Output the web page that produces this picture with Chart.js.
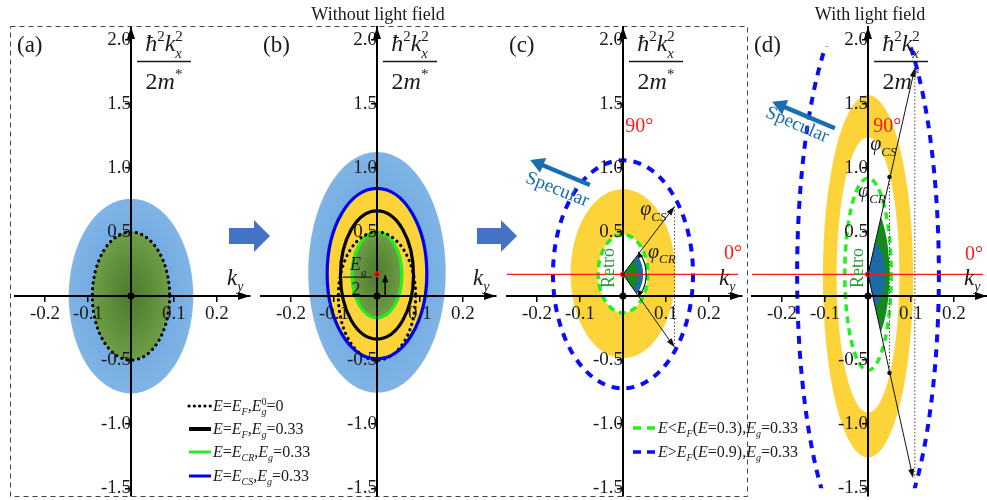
<!DOCTYPE html>
<html>
<head>
<meta charset="utf-8">
<script src="https://cdn.jsdelivr.net/npm/chart.js@4.4.1/dist/chart.umd.min.js"></script>
<style>
html, body { margin: 0; padding: 0; background: #fff; overflow: hidden; width: 987px; height: 500px; }
canvas { position: absolute; left: 0; top: 0; }
</style>
</head>
<body>
<canvas id="pa" width="987" height="530"></canvas>
<canvas id="pb" width="987" height="530"></canvas>
<canvas id="pc" width="987" height="530"></canvas>
<canvas id="pd" width="987" height="530"></canvas>
<script>
// axes
const kRange = [-0.27, 0.277];
const eRange = [-1.56, 2.1];
const xTickValues = [-0.2, -0.1, 0.1, 0.2];
const yTickValues = [-1.5, -1.0, -0.5, 0.5, 1.0, 1.5, 2.0];
const panelNames = ['(a)', '(b)', '(c)', '(d)'];
const yTitleTop = 'ħ^{2}k_{x}^{2}';
const yTitleBottom = '2m^{*}';
const xTitle = 'k_{y}';
const gapShift = 0.17; // Eg/2

// ellipses: [k centre, E centre, half width, half height]
const cloudA = [0, 0, 0.145, 0.76];
const fermiA = [0, 0, 0.09, 0.5];
const cloudB = [0, 0.185, 0.16, 0.94];
const csLineB = [0, 0.175, 0.116, 0.665];
const fermiGapB = [0, 0.165, 0.085, 0.5];
const crLineB = [0, 0.165, 0.058, 0.335];
const ringOuterC = [0, 0.175, 0.122, 0.66];
const ringInnerC = [0, 0.175, 0.058, 0.305];
const highDashC = [0, 0.17, 0.163, 0.89];
const ringOuterD = [0, 0.155, 0.105, 1.415];
const ringInnerD = [0, 0.165, 0.073, 1.075];
const lowDashD = [0, 0.17, 0.054, 0.75];
const highDashD = [0, 0.17, 0.165, 2.22];
const highDashCut = [-1.5, 1.95];

// reflection angles
const phiEndsC = [[0.12, 0.70], [0.12, -0.40]];
const wedgeOuterC = [0, 0.17, 0.047, 0.21];
const wedgeInnerC = [0, 0.17, 0.035, 0.16];
const phiEndsD = [[0.109, 1.78], [0.105, -1.42]];
const wedgeOuterD = [0, 0.17, 0.05, 0.56];
const wedgeInnerD = [0, 0.17, 0.04, 0.28];
const crPointsD = [[0.05, 0.93], [0.05, -0.60]];

const legendB = ['E=E_{F},E_{g}^{0}=0', 'E=E_{F},E_{g}=0.33', 'E=E_{CR},E_{g}=0.33', 'E=E_{CS},E_{g}=0.33'];
const legendC = ['E<E_{F}(E=0.3),E_{g}=0.33', 'E>E_{F}(E=0.9),E_{g}=0.33'];

const axisPos = [131, 377, 623, 868];
const SERIF = '"Liberation Serif", "Times New Roman", serif';
const YELLOW = '#fcd43a';
const LIME = '#22ee22';
const BLUE_LINE = '#0a0aff';

function font(size, italic) { return (italic ? 'italic ' : '') + size + 'px ' + SERIF; }
const P = (ch, x, y) => [ch.scales.x.getPixelForValue(x), ch.scales.y.getPixelForValue(y)];

function ellPx(ch, e) {
  const [x0, y0] = P(ch, e[0], e[1]);
  return [x0, y0, ch.scales.x.getPixelForValue(e[0] + e[2]) - x0, y0 - ch.scales.y.getPixelForValue(e[1] + e[3])];
}
function ellPath(ctx, ch, e) {
  const [x0, y0, rx, ry] = ellPx(ch, e);
  ctx.moveTo(x0 + rx, y0);
  ctx.ellipse(x0, y0, rx, ry, 0, 0, 2 * Math.PI);
}
function fillEll(ctx, ch, e, color) {
  ctx.beginPath(); ellPath(ctx, ch, e); ctx.fillStyle = color; ctx.fill();
}
function cloud(ctx, ch, e, inner, outer) {
  const [x0, y0, rx, ry] = ellPx(ch, e);
  ctx.save();
  ctx.translate(x0, y0); ctx.scale(1, ry / rx);
  const g = ctx.createRadialGradient(0, 0, 0, 0, 0, rx);
  g.addColorStop(0, inner); g.addColorStop(1, outer);
  ctx.fillStyle = g;
  ctx.beginPath(); ctx.arc(0, 0, rx, 0, 2 * Math.PI); ctx.fill();
  ctx.restore();
}
function ring(ctx, ch, outer, inner, color) {
  ctx.beginPath(); ellPath(ctx, ch, outer); ellPath(ctx, ch, inner);
  ctx.fillStyle = color; ctx.fill('evenodd');
}
function strokeEll(ctx, ch, e, color, w, dash, cap) {
  ctx.save();
  ctx.beginPath(); ellPath(ctx, ch, e);
  ctx.strokeStyle = color; ctx.lineWidth = w; ctx.setLineDash(dash || []); ctx.lineCap = cap || 'butt';
  ctx.stroke();
  ctx.restore();
}
function sector(ctx, ch, ends, big, small, bigColor, smallColor) {
  ctx.save();
  const c = P(ch, 0, gapShift);
  ctx.beginPath(); ctx.moveTo(c[0], c[1]);
  ends.forEach(e => { const p = P(ch, e[0], e[1]); ctx.lineTo(p[0], p[1]); });
  ctx.closePath(); ctx.clip();
  fillEll(ctx, ch, big, bigColor);
  fillEll(ctx, ch, small, smallColor);
  ctx.restore();
}
function redLine(ctx, ch) {
  const y = ch.scales.y.getPixelForValue(gapShift);
  ctx.strokeStyle = '#ff1a1a'; ctx.lineWidth = 1.2;
  ctx.beginPath(); ctx.moveTo(ch.chartArea.left, y); ctx.lineTo(ch.chartArea.right - 4, y); ctx.stroke();
}
function redDot(ctx, ch) {
  const [x, y] = P(ch, 0, gapShift);
  ctx.beginPath(); ctx.arc(x, y, 2.6, 0, 2 * Math.PI);
  ctx.fillStyle = '#a00'; ctx.fill(); ctx.strokeStyle = '#f33'; ctx.lineWidth = 1; ctx.stroke();
}
function arrow(ctx, x1, y1, x2, y2, len, half, w, color) {
  const a = Math.atan2(y2 - y1, x2 - x1), c = Math.cos(a), s = Math.sin(a);
  ctx.strokeStyle = color; ctx.fillStyle = color; ctx.lineWidth = w; ctx.setLineDash([]);
  ctx.beginPath(); ctx.moveTo(x1, y1); ctx.lineTo(x2 - c * len * 0.7, y2 - s * len * 0.7); ctx.stroke();
  ctx.beginPath(); ctx.moveTo(x2, y2);
  ctx.lineTo(x2 - c * len - s * half, y2 - s * len + c * half);
  ctx.lineTo(x2 - c * len + s * half, y2 - s * len - c * half);
  ctx.closePath(); ctx.fill();
}
function dataArrow(ctx, ch, from, to, len, half, w, color) {
  const a = P(ch, from[0], from[1]), b = P(ch, to[0], to[1]);
  arrow(ctx, a[0], a[1], b[0], b[1], len, half, w, color);
}
function dotted(ctx, ch, x, y1, y2) {
  const a = P(ch, x, y1), b = P(ch, x, y2);
  ctx.save();
  ctx.strokeStyle = '#444'; ctx.lineWidth = 1; ctx.setLineDash([1.5, 2]);
  ctx.beginPath(); ctx.moveTo(a[0], a[1]); ctx.lineTo(b[0], b[1]); ctx.stroke();
  ctx.restore();
}
function blockArrow(ctx, x1, x2, y) {
  ctx.fillStyle = '#4472c4';
  ctx.beginPath();
  ctx.moveTo(x1, y - 8); ctx.lineTo(x2 - 16, y - 8); ctx.lineTo(x2 - 16, y - 16); ctx.lineTo(x2, y);
  ctx.lineTo(x2 - 16, y + 16); ctx.lineTo(x2 - 16, y + 8); ctx.lineTo(x1, y + 8);
  ctx.closePath(); ctx.fill();
}

// tiny rich text: letters italic, _{..} subscript, ^{..} superscript
function parseRich(s) {
  const parts = [];
  let i = 0;
  while (i < s.length) {
    const c = s[i];
    if ((c === '_' || c === '^') && s[i + 1] === '{') {
      const j = s.indexOf('}', i);
      const t = s.slice(i + 2, j);
      const stack = c === '_' && s[j + 1] === '^';
      parts.push([t, (c === '_' ? 'b' : 'p') + (/[A-Za-z]/.test(t) ? 'i' : '') + (stack ? 'k' : '')]);
      i = j + 1;
    } else {
      const k = /[A-Za-zħφ]/.test(c) ? 'i' : '';
      const last = parts[parts.length - 1];
      if (last && last[1] === k) last[0] += c; else parts.push([c, k]);
      i++;
    }
  }
  return parts;
}
function richRun(ctx, x, y, parts, size, draw) {
  let cx = x;
  for (const [t, k] of parts) {
    const small = k.includes('b') || k.includes('p');
    const s = small ? Math.round(size * 0.63) : size;
    const dy = k.includes('b') ? size * 0.28 : (k.includes('p') ? -size * 0.4 : 0);
    ctx.font = font(s, k.includes('i'));
    if (draw) ctx.fillText(t, cx, y + dy);
    if (!k.includes('k')) cx += ctx.measureText(t).width;
  }
  return cx - x;
}
function rich(ctx, x, y, str, size, color, center) {
  const parts = parseRich(str);
  ctx.textAlign = 'left'; ctx.textBaseline = 'alphabetic'; ctx.fillStyle = color;
  const w = richRun(ctx, 0, 0, parts, size, false);
  richRun(ctx, center ? x - w / 2 : x, y, parts, size, true);
}
function richAt(ctx, ch, x, y, str, size, color) {
  const p = P(ch, x, y);
  rich(ctx, p[0], p[1], str, size, color, false);
}
function plain(ctx, str, x, y, size, color, align) {
  ctx.font = font(size, false); ctx.fillStyle = color;
  ctx.textAlign = align || 'left'; ctx.textBaseline = 'alphabetic';
  ctx.fillText(str, x, y);
}
function rotText(ctx, ch, str, x, y, ang, size, color) {
  const p = P(ch, x, y);
  ctx.save();
  ctx.translate(p[0], p[1]); ctx.rotate(ang);
  ctx.font = font(size, false); ctx.fillStyle = color;
  ctx.textAlign = 'center'; ctx.textBaseline = 'middle';
  ctx.fillText(str, 0, 0);
  ctx.restore();
}

function frame(ctx, ch, i) {
  const a = ch.chartArea;
  const [x0, y0] = P(ch, 0, 0);
  ctx.fillStyle = '#000';
  ctx.beginPath(); ctx.moveTo(x0, a.top); ctx.lineTo(x0 - 4, a.top + 12); ctx.lineTo(x0 + 4, a.top + 12); ctx.closePath(); ctx.fill();
  ctx.beginPath(); ctx.moveTo(a.right, y0); ctx.lineTo(a.right - 12, y0 - 4); ctx.lineTo(a.right - 12, y0 + 4); ctx.closePath(); ctx.fill();
  ctx.beginPath(); ctx.arc(x0, y0, 3.5, 0, 2 * Math.PI); ctx.fill();
  plain(ctx, panelNames[i], x0 - 114, 52, 23, '#1a1a1a');
  rich(ctx, x0 + 33, 51, yTitleTop, 24, '#1a1a1a', true);
  ctx.strokeStyle = '#1a1a1a'; ctx.lineWidth = 1.5; ctx.setLineDash([]);
  ctx.beginPath(); ctx.moveTo(x0 + 6, 61.5); ctx.lineTo(x0 + 60, 61.5); ctx.stroke();
  rich(ctx, x0 + 33, 89, yTitleBottom, 24, '#1a1a1a', true);
  rich(ctx, x0 + 96, 285, xTitle, 23, '#1a1a1a', false);
}

const under = [
  (ctx, ch) => {
    cloud(ctx, ch, cloudA, '#5e9bd8', '#80b4e6');
    cloud(ctx, ch, fermiA, '#4a7a2c', '#6e9e46');
    strokeEll(ctx, ch, fermiA, '#000', 3.2, [0.1, 5.6], 'round');
  },
  (ctx, ch) => {
    cloud(ctx, ch, cloudB, '#5e9bd8', '#80b4e6');
    fillEll(ctx, ch, csLineB, YELLOW);
    cloud(ctx, ch, crLineB, '#4a7a2c', '#6e9e46');
    strokeEll(ctx, ch, crLineB, LIME, 3.2);
    strokeEll(ctx, ch, fermiGapB, '#000', 3.2);
    strokeEll(ctx, ch, fermiA, '#000', 3.2, [0.1, 5.6], 'round');
    strokeEll(ctx, ch, csLineB, '#0000ee', 3.2);
  },
  (ctx, ch) => {
    ring(ctx, ch, ringOuterC, ringInnerC, YELLOW);
    sector(ctx, ch, phiEndsC, wedgeOuterC, wedgeInnerC, '#1c6aa8', '#128a1c');
    strokeEll(ctx, ch, ringInnerC, LIME, 3.5, [7, 5]);
    strokeEll(ctx, ch, highDashC, BLUE_LINE, 4, [8, 7]);
    redLine(ctx, ch);
  },
  (ctx, ch) => {
    ring(ctx, ch, ringOuterD, ringInnerD, YELLOW);
    sector(ctx, ch, phiEndsD, wedgeOuterD, wedgeInnerD, '#128a1c', '#1c6aa8');
    strokeEll(ctx, ch, lowDashD, LIME, 3.5, [7, 5]);
    ctx.save();
    const top = ch.scales.y.getPixelForValue(highDashCut[1]);
    const bot = ch.scales.y.getPixelForValue(highDashCut[0]);
    ctx.beginPath(); ctx.rect(ch.chartArea.left, top, ch.chartArea.width, bot - top); ctx.clip();
    strokeEll(ctx, ch, highDashD, BLUE_LINE, 4, [8, 7]);
    ctx.restore();
    redLine(ctx, ch);
  }
];

const over = [
  (ctx, ch) => {
    ctx.strokeStyle = '#444'; ctx.lineWidth = 1; ctx.setLineDash([5, 4]);
    ctx.strokeRect(10.5, 26.5, 737, 470);
    ctx.setLineDash([]);
    blockArrow(ctx, 229, 270, 236);
  },
  (ctx, ch) => {
    plain(ctx, 'Without light field', 378, 20, 18, '#1a1a1a', 'center');
    blockArrow(ctx, 477, 517, 236);
    redDot(ctx, ch);
    dataArrow(ctx, ch, [0.019, 0], [0.019, gapShift], 8, 3, 1.5, '#000');
    richAt(ctx, ch, -0.063, 0.2, 'E_{g}', 18, '#1a1a1a');
    const b1 = P(ch, -0.079, 0.148), b2 = P(ch, -0.012, 0.148);
    ctx.strokeStyle = '#1a1a1a'; ctx.lineWidth = 1.2;
    ctx.beginPath(); ctx.moveTo(b1[0], b1[1]); ctx.lineTo(b2[0], b2[1]); ctx.stroke();
    const two = P(ch, -0.049, 0.01);
    plain(ctx, '2', two[0], two[1], 18, '#1a1a1a', 'center');
    const styles = [['#000', 3.2, [0.1, 5.2], 'round'], ['#000', 4, [], 'butt'], [LIME, 3, [], 'butt'], ['#0000ee', 3, [], 'butt']];
    const rows = [406, 429, 452, 476];
    legendB.forEach((t, k) => {
      const s = styles[k];
      ctx.save();
      ctx.strokeStyle = s[0]; ctx.lineWidth = s[1]; ctx.setLineDash(s[2]); ctx.lineCap = s[3];
      ctx.beginPath(); ctx.moveTo(189, rows[k]); ctx.lineTo(211, rows[k]); ctx.stroke();
      ctx.restore();
      rich(ctx, 213, rows[k] + 5, t, 16, '#1a1a1a', false);
    });
  },
  (ctx, ch) => {
    redDot(ctx, ch);
    dotted(ctx, ch, phiEndsC[0][0], phiEndsC[0][1], phiEndsC[1][1]);
    phiEndsC.forEach(e => dataArrow(ctx, ch, [0, gapShift], e, 9, 3, 1, '#111'));
    // phi_CR arc
    const [cx, cy, rx, ry] = ellPx(ch, wedgeOuterC);
    ctx.strokeStyle = '#111'; ctx.lineWidth = 1.2;
    ctx.beginPath(); ctx.ellipse(cx, cy, rx + 3, ry + 3, 0, -0.85, 0.85); ctx.stroke();
    const up = [cx + (rx + 3) * Math.cos(-0.85), cy + (ry + 3) * Math.sin(-0.85)];
    const dn = [cx + (rx + 3) * Math.cos(0.85), cy + (ry + 3) * Math.sin(0.85)];
    arrow(ctx, up[0] + 2, up[1] + 5, up[0], up[1], 6, 3, 1, '#111');
    arrow(ctx, dn[0] + 2, dn[1] - 5, dn[0], dn[1], 6, 3, 1, '#111');
    richAt(ctx, ch, 0.04, 0.63, 'φ_{CS}', 20, '#1a1a1a');
    richAt(ctx, ch, 0.058, 0.30, 'φ_{CR}', 20, '#1a1a1a');
    const n = P(ch, 0.005, 1.28), z = P(ch, 0.235, 0.29);
    plain(ctx, '90°', n[0], n[1], 20, '#ff1a1a');
    plain(ctx, '0°', z[0], z[1], 20, '#ff1a1a');
    dataArrow(ctx, ch, [-0.077, 0.867], [-0.216, 1.0625], 14, 8, 4.5, '#1a6db0');
    rotText(ctx, ch, 'Specular', -0.153, 0.83, 0.38, 19, '#1a6db0');
    rotText(ctx, ch, 'Retro', -0.033, 0.22, -Math.PI / 2, 18, '#2b9a3a');
    const colors = [LIME, BLUE_LINE];
    const rows = [428, 452];
    legendC.forEach((t, k) => {
      ctx.save();
      ctx.strokeStyle = colors[k]; ctx.lineWidth = 3.5; ctx.setLineDash([8, 6]);
      ctx.beginPath(); ctx.moveTo(633, rows[k]); ctx.lineTo(655, rows[k]); ctx.stroke();
      ctx.restore();
      rich(ctx, 658, rows[k] + 5, t, 16, '#1a1a1a', false);
    });
  },
  (ctx, ch) => {
    plain(ctx, 'With light field', 870, 20, 18, '#1a1a1a', 'center');
    redDot(ctx, ch);
    dotted(ctx, ch, phiEndsD[0][0], phiEndsD[0][1], phiEndsD[1][1]);
    dotted(ctx, ch, crPointsD[0][0], crPointsD[0][1], crPointsD[1][1]);
    phiEndsD.forEach(e => dataArrow(ctx, ch, [0, gapShift], e, 9, 3, 1, '#111'));
    crPointsD.forEach(p => {
      const q = P(ch, p[0], p[1]);
      ctx.fillStyle = '#111'; ctx.beginPath(); ctx.arc(q[0], q[1], 2.2, 0, 2 * Math.PI); ctx.fill();
    });
    richAt(ctx, ch, 0.005, 1.14, 'φ_{CS}', 20, '#1a1a1a');
    richAt(ctx, ch, -0.023, 0.77, 'φ_{CR}', 20, '#1a1a1a');
    const n = P(ch, 0.012, 1.28), z = P(ch, 0.226, 0.28);
    plain(ctx, '90°', n[0], n[1], 20, '#ff1a1a');
    plain(ctx, '0°', z[0], z[1], 20, '#ff1a1a');
    dataArrow(ctx, ch, [-0.077, 1.31], [-0.223, 1.516], 14, 8, 4.5, '#1a6db0');
    rotText(ctx, ch, 'Specular', -0.165, 1.336, 0.4, 19, '#1a6db0');
    rotText(ctx, ch, 'Retro', -0.023, 0.22, -Math.PI / 2, 18, '#2b9a3a');
  }
];

function makeDiagram(i) {
  return {
    id: 'diagram' + i,
    beforeDraw(ch) { const ctx = ch.ctx; ctx.save(); under[i](ctx, ch); ctx.restore(); },
    afterDraw(ch) {
      const ctx = ch.ctx;
      ctx.save(); frame(ctx, ch, i); ctx.restore();
      ctx.save(); over[i](ctx, ch); ctx.restore();
    }
  };
}

const tickFont = { family: 'Liberation Serif', size: 19 };

function makeChart(id, i) {
  return new Chart(document.getElementById(id), {
    type: 'scatter',
    data: { datasets: [] },
    options: {
      responsive: false,
      animation: false,
      events: [],
      layout: { padding: { left: axisPos[i] - 116, right: 987 - (axisPos[i] + 119), top: 27, bottom: 34 } },
      plugins: { legend: { display: false }, tooltip: { enabled: false } },
      scales: {
        x: {
          type: 'linear', min: kRange[0], max: kRange[1], position: { y: 0 },
          afterBuildTicks: s => { s.ticks = xTickValues.map(v => ({ value: v })); },
          grid: { display: true, drawOnChartArea: false, drawTicks: true, tickLength: 5, color: '#000', lineWidth: 1.5 },
          border: { display: true, color: '#000', width: 2 },
          ticks: { color: '#1a1a1a', font: tickFont, padding: 2, maxRotation: 0, autoSkip: false, callback: v => v.toFixed(1) }
        },
        y: {
          type: 'linear', min: eRange[0], max: eRange[1], position: { x: 0 },
          afterBuildTicks: s => { s.ticks = yTickValues.map(v => ({ value: v })); },
          grid: { display: true, drawOnChartArea: false, drawTicks: true, tickLength: 5, color: '#000', lineWidth: 1.5 },
          border: { display: true, color: '#000', width: 2 },
          ticks: { color: '#1a1a1a', font: tickFont, padding: 2, autoSkip: false, callback: v => v.toFixed(1) }
        }
      }
    },
    plugins: [makeDiagram(i)]
  });
}

makeChart('pa', 0);
makeChart('pb', 1);
makeChart('pc', 2);
makeChart('pd', 3);
</script>
</body>
</html>
